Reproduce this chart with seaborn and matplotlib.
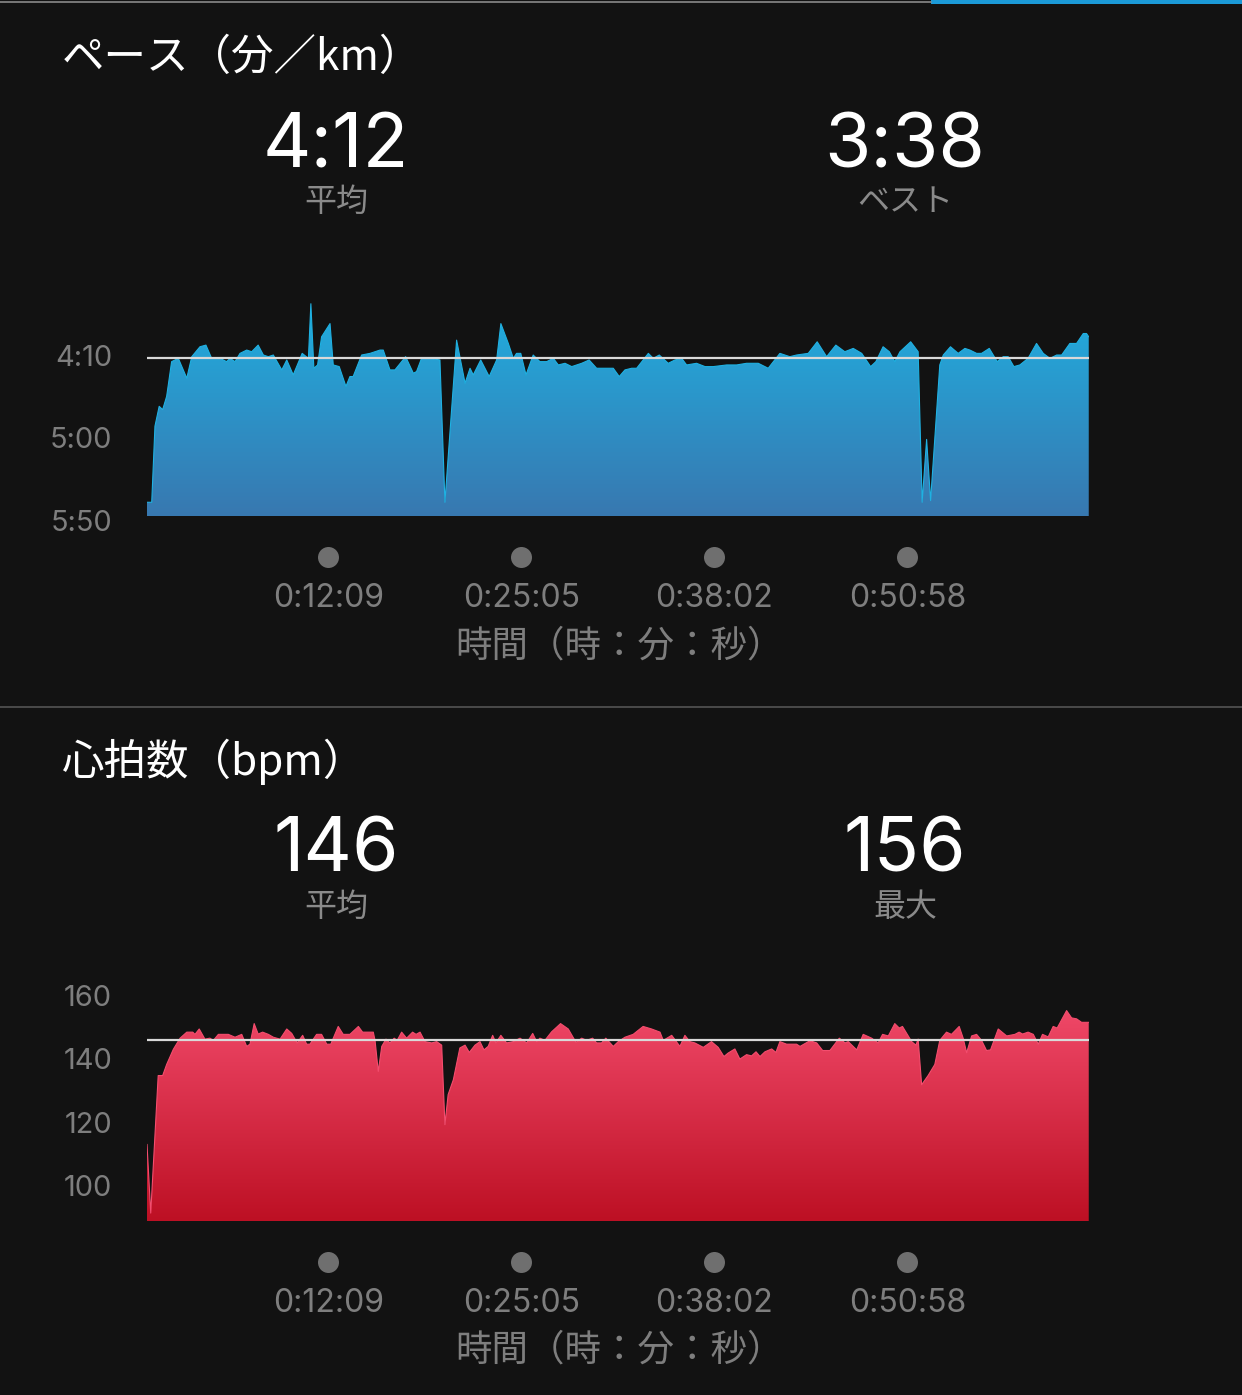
import numpy as np
import pandas as pd
import matplotlib
matplotlib.use("Agg")
import matplotlib.pyplot as plt
import seaborn as sns
from matplotlib.colors import LinearSegmentedColormap
from matplotlib.transforms import blended_transform_factory
from matplotlib.patches import Rectangle
from matplotlib.lines import Line2D
from matplotlib.path import Path

# ---------------- data ----------------
pace_time_s = [0, 19, 32, 49, 63, 79, 99, 126, 160, 180,
               213, 237, 260, 294, 320, 334, 354, 374, 401, 421,
               447, 468, 488, 508, 542, 562, 588, 624, 649, 659,
               671, 686, 702, 736, 749, 773, 800, 816, 829, 863,
               897, 937, 950, 977, 997, 1040, 1071, 1084, 1104, 1138,
               1178, 1198, 1245, 1279, 1299, 1312, 1342, 1376, 1406, 1423,
               1453, 1473, 1486, 1503, 1524, 1553, 1580, 1607, 1634, 1654,
               1681, 1708, 1748, 1778, 1808, 1848, 1875, 1899, 1922, 1949,
               1969, 2016, 2036, 2060, 2096, 2123, 2150, 2170, 2210, 2244,
               2277, 2331, 2371, 2411, 2438, 2458, 2498, 2545, 2585, 2612,
               2659, 2695, 2733, 2770, 2806, 2840, 2874, 2910, 2931, 2960,
               2985, 3007, 3028, 3071, 3101, 3117, 3135, 3151, 3188, 3202,
               3231, 3262, 3289, 3309, 3336, 3356, 3387, 3419, 3443, 3463,
               3486, 3510, 3543, 3577, 3604, 3631, 3658, 3678, 3711, 3738,
               3765, 3778, 3787]
pace_sec_per_km = [339, 339, 293, 281, 283, 275, 254, 252, 264, 251,
                   245, 244, 252, 252, 254, 252, 254, 249, 247, 248,
                   244, 250, 251, 250, 259, 253, 262, 249, 252, 219,
                   258, 256, 239, 231, 256, 257, 269, 263, 263, 250,
                   249, 247, 247, 259, 259, 251, 261, 260, 252, 252,
                   253, 339, 241, 267, 258, 262, 253, 263, 253, 231,
                   243, 252, 249, 249, 262, 250, 254, 254, 252, 256,
                   255, 257, 255, 253, 258, 258, 258, 263, 259, 258,
                   258, 249, 252, 250, 255, 253, 252, 256, 255, 257,
                   257, 256, 256, 255, 255, 255, 258, 249, 251, 250,
                   249, 242, 251, 244, 248, 246, 249, 257, 254, 245,
                   248, 254, 248, 242, 248, 339, 301, 338, 256, 250,
                   245, 249, 246, 247, 249, 249, 246, 254, 251, 251,
                   257, 256, 252, 243, 249, 252, 250, 250, 243, 243,
                   237, 237, 239]

hr_time_s = [0, 15, 45, 63, 79, 106, 133, 160, 184, 193,
             210, 233, 253, 267, 287, 327, 354, 381, 401, 414,
             431, 447, 465, 488, 508, 535, 562, 582, 604, 626,
             642, 655, 682, 702, 723, 739, 769, 789, 816, 850,
             867, 910, 917, 930, 944, 961, 977, 994, 1006, 1024,
             1044, 1068, 1082, 1098, 1118, 1145, 1165, 1185, 1198, 1211,
             1232, 1258, 1279, 1296, 1319, 1339, 1355, 1372, 1390, 1403,
             1423, 1446, 1473, 1500, 1527, 1551, 1567, 1580, 1600, 1627,
             1663, 1694, 1725, 1748, 1768, 1792, 1808, 1828, 1845, 1875,
             1895, 1922, 1955, 1995, 2029, 2063, 2076, 2110, 2143, 2163,
             2183, 2203, 2237, 2270, 2297, 2320, 2337, 2364, 2384, 2411,
             2431, 2449, 2465, 2485, 2512, 2529, 2545, 2572, 2612, 2626,
             2666, 2693, 2717, 2746, 2784, 2807, 2820, 2854, 2880, 2914,
             2940, 2958, 2981, 3007, 3025, 3038, 3075, 3092, 3101, 3115,
             3141, 3168, 3188, 3215, 3235, 3266, 3282, 3296, 3316, 3336,
             3356, 3376, 3392, 3423, 3457, 3490, 3507, 3521, 3543, 3564,
             3584, 3601, 3624, 3644, 3660, 3698, 3718, 3738, 3758, 3787]
hr_bpm = [113.0, 91.3, 134.7, 134.7, 138.2, 143.0, 146.5, 148.4, 148.4, 147.7,
          149.4, 146.2, 146.5, 145.8, 147.7, 147.7, 146.8, 147.7, 143.9, 144.6,
          151.1, 147.8, 148.4, 147.7, 146.8, 146.2, 149.4, 148.0, 145.0, 147.4,
          144.6, 144.6, 147.7, 147.7, 144.6, 144.6, 150.2, 147.7, 147.7, 150.2,
          148.4, 148.4, 145.8, 136.0, 143.9, 146.2, 145.0, 146.5, 145.8, 148.4,
          146.5, 148.4, 147.7, 148.4, 145.4, 145.0, 145.4, 144.3, 119.2, 128.7,
          133.4, 143.4, 144.3, 142.0, 144.3, 145.4, 142.8, 143.9, 147.4, 145.0,
          147.4, 145.0, 145.4, 146.5, 145.0, 148.0, 145.4, 146.5, 145.8, 148.5,
          151.1, 149.4, 145.2, 146.5, 145.8, 146.5, 145.0, 145.0, 146.5, 143.9,
          145.4, 146.8, 147.7, 150.2, 149.4, 148.4, 145.8, 147.4, 143.9, 147.4,
          145.4, 145.0, 143.6, 145.4, 143.6, 140.7, 141.8, 143.1, 139.9, 141.3,
          140.9, 142.2, 140.7, 142.2, 143.1, 142.0, 145.4, 144.6, 144.6, 143.9,
          145.7, 145.0, 142.6, 142.6, 146.5, 145.0, 145.4, 142.8, 147.7, 146.5,
          145.0, 147.7, 147.2, 151.1, 149.7, 150.2, 145.4, 144.3, 146.2, 131.8,
          134.7, 138.2, 145.8, 148.4, 147.7, 150.2, 146.5, 141.9, 147.2, 147.7,
          145.8, 142.6, 142.8, 149.4, 147.2, 147.7, 148.4, 147.8, 148.4, 147.7,
          144.6, 147.7, 146.9, 150.2, 149.7, 155.2, 152.9, 152.6, 151.5, 151.5]

time_tick_s = [729, 1505, 2282, 3058]
time_tick_labels = ["0:12:09", "0:25:05", "0:38:02", "0:50:58"]
total_time_s = 3788

pace_ticks = [250, 300, 350]
pace_tick_labels = ["4:10", "5:00", "5:50"]
pace_avg = 252
pace_stats = ["4:12", "3:38"]
pace_stat_names = ["平均", "ベスト"]

hr_ticks = [160, 140, 120, 100]
hr_tick_labels = ["160", "140", "120", "100"]
hr_avg = 146
hr_stats = ["146", "156"]
hr_stat_names = ["平均", "最大"]

titles = ["ペース（分／km）", "心拍数（bpm）"]
x_title = "時間（時：分：秒）"

assert len(pace_time_s) == len(pace_sec_per_km)
assert len(hr_time_s) == len(hr_bpm)

# ---------------- style ----------------
sns.set_theme(style="dark")
plt.rcParams["font.family"] = ["Noto Sans CJK JP", "DejaVu Sans"]
NUM_FONT = ["Inter", "Noto Sans CJK JP", "DejaVu Sans"]
BG = "#121212"
GREY = "#7e7e7e"
W, H = 1242, 1395

fig = plt.figure(figsize=(W / 100, H / 100), dpi=100, facecolor=BG)


def fx(x):
    return x / W


def fy(y):
    return 1 - y / H


def pt(px):
    return px * 72 / 100


def panel(off, t, v, ylim, base, ticks, tlabels, avg, c_top, c_bot, stats, names,
          title, top_px, bottom_px):
    rect = [fx(147), fy(bottom_px), fx(1089) - fx(147), (bottom_px - top_px) / H]
    ax = fig.add_axes(rect)
    ax.set_facecolor(BG)
    for s in ax.spines.values():
        s.set_visible(False)
    df = pd.DataFrame({"t": t, "v": v})
    sns.lineplot(data=df, x="t", y="v", ax=ax, color=c_top, lw=0.8, zorder=3)
    poly = ax.fill_between(df["t"], df["v"], base, color="none", lw=0)
    clip = Path.make_compound_path(*poly.get_paths())
    grad = np.linspace(0, 1, 256).reshape(-1, 1)
    cmap = LinearSegmentedColormap.from_list("g", [c_top, c_bot])
    im = ax.imshow(grad, cmap=cmap, aspect="auto", origin="upper",
                   extent=(0, total_time_s, base, ylim[1]), zorder=2,
                   interpolation="bilinear")
    im.set_clip_path(clip, transform=ax.transData)
    ax.axhline(avg, color="#d9d9d9", lw=1.6, zorder=4)
    ax.set_xlabel("")
    ax.set_ylabel("")
    ax.grid(False)
    ax.set_xticks([])
    ax.set_yticks(ticks)
    ax.set_yticklabels(tlabels, color=GREY, fontsize=pt(29), family=NUM_FONT)
    ax.tick_params(axis="y", length=0, pad=pt(35))

    trans = blended_transform_factory(ax.transData, fig.transFigure)
    ax.scatter(time_tick_s, [fy(557 + off)] * len(time_tick_s), s=pt(21) ** 2,
               color="#6f6f6f", transform=trans, clip_on=False, zorder=5, lw=0)
    for tt, lab in zip(time_tick_s, time_tick_labels):
        ax.text(tt, fy(607 + off), lab, transform=trans, ha="center", va="baseline",
                color=GREY, fontsize=pt(32), family=NUM_FONT)
    fig.text(fx(619), fy(656 + off), x_title, ha="center", va="baseline",
             color=GREY, fontsize=pt(36.5))

    fig.text(fx(62), fy(70 + off), title, ha="left", va="baseline",
             color="white", fontsize=pt(42.5))
    for cx, val, nm in zip([336, 905], stats, names):
        fig.text(fx(cx), fy(167 + off), val, ha="center", va="baseline",
                 color="white", fontsize=pt(75), family=NUM_FONT)
        fig.text(fx(cx), fy(211 + off), nm, ha="center", va="baseline",
                 color="#8a8a8a", fontsize=pt(32))
    # lock limits and geometry
    ax.set_aspect("auto")
    ax.set_autoscale_on(False)
    ax.set_xlim(0, total_time_s)
    ax.set_ylim(ylim[0], ylim[1])
    ax.set_position(rect)
    return ax


# pace: axis runs 350.5 (bottom, y=521.3 px) to 210.7 (top, y=290 px); fill base 347.3
panel(0, pace_time_s, pace_sec_per_km, (350.5, 210.7), 347.3, pace_ticks,
      pace_tick_labels, pace_avg, "#1fb1e2", "#3878b0", pace_stats, pace_stat_names,
      titles[0], 290, 521.3)
panel(705, hr_time_s, hr_bpm, (88.8, 161.7), 88.8, hr_ticks, hr_tick_labels,
      hr_avg, "#f44d6e", "#bd1024", hr_stats, hr_stat_names, titles[1], 990, 1221)

# top progress bar and separator
fig.add_artist(Line2D([0, fx(931)], [fy(1.5), fy(1.5)], color="#8a8a8a", lw=1.2,
                      transform=fig.transFigure))
fig.add_artist(Rectangle((fx(931), fy(3.5)), fx(1242) - fx(931), 3.5 / H,
                         transform=fig.transFigure, color="#1b9ad8", lw=0))
fig.add_artist(Line2D([0, 1], [fy(707), fy(707)], color="#4a4a4a", lw=1.4,
                      transform=fig.transFigure))

fig.savefig("out.png", dpi=100, facecolor=BG)
